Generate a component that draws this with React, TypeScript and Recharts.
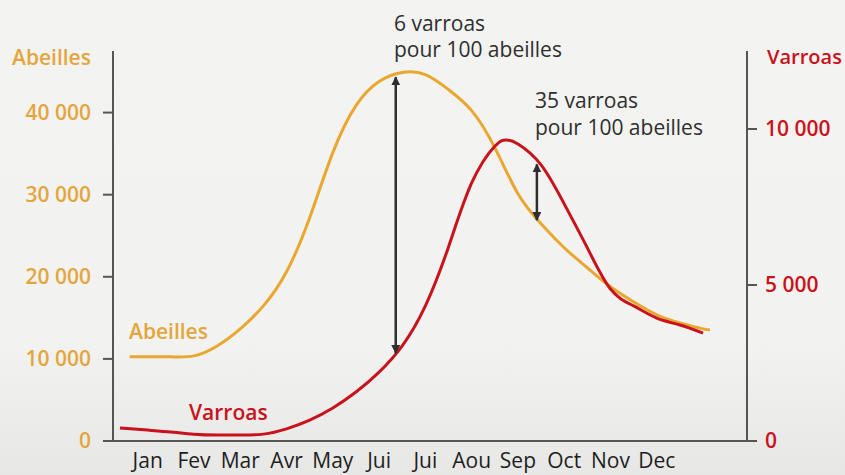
import React from "react";
import { LineChart, Line, XAxis, YAxis, ReferenceLine } from "recharts";

const months = ["Jan", "Fev", "Mar", "Avr", "May", "Jui", "Jui", "Aou", "Sep", "Oct", "Nov", "Dec"];
const monthTicks = [1, 2, 3, 4, 5, 6, 7, 8, 9, 10, 11, 12];

// abeilles (left axis), x = month position
const beeMonths = [0.61, 1, 1.5, 2, 2.5, 3, 3.5, 4, 4.5, 5, 5.5, 6, 6.5, 7, 7.5, 8, 8.5, 9, 9.5, 10, 10.5, 11, 11.5, 12, 12.5, 13, 13.15];
const beeCounts = [10250, 10250, 10250, 10370, 11580, 13660, 16460, 20610, 27200, 35120, 40850, 43780, 44880, 44630, 42800, 40240, 35730, 30120, 26460, 23540, 21100, 18780, 16950, 15370, 14390, 13660, 13540];

// varroas (right axis)
const miteMonths = [0.4, 1, 1.5, 2, 2.5, 3, 3.5, 4, 4.5, 5, 5.5, 6, 6.5, 7, 7.5, 8, 8.5, 8.75, 9, 9.5, 10, 10.5, 11, 11.5, 12, 12.5, 13];
const miteCounts = [420, 350, 290, 220, 190, 190, 220, 390, 670, 1060, 1570, 2210, 3050, 4330, 6220, 8270, 9450, 9650, 9520, 8850, 7600, 6190, 4870, 4330, 3940, 3720, 3460];

const beeTicks = [0, 10000, 20000, 30000, 40000];
const miteTicks = [0, 5000, 10000];

const beeData = beeMonths.map((m, i) => ({ m, v: beeCounts[i] }));
const miteData = miteMonths.map((m, i) => ({ m, v: miteCounts[i] }));

const YELLOW = "#e9a72f";
const YELLOW_TXT = "#e3a63d";
const RED = "#c8121c";
const AXIS = "#555";
const DARK = "#2e2e2e";
const FONT = "'Open Sans', sans-serif";

const fmt = (v: number) => String(v).replace(/\B(?=(\d{3})+(?!\d))/g, " ");

const arrowShape = (p: any) => (
  <line
    x1={p.x1}
    y1={p.y1}
    x2={p.x2}
    y2={p.y2}
    stroke={DARK}
    strokeWidth={2.5}
    markerStart="url(#arrowHead)"
    markerEnd="url(#arrowHead)"
  />
);

export default function App() {
  return (
    <div
      style={{
        position: "absolute",
        left: 0,
        top: 0,
        width: 845,
        height: 475,
        background: "linear-gradient(to bottom, #f3f3f1 0%, #f2f2f0 72%, #e7e7e6 100%)",
        fontFamily: FONT,
      }}
    >
      <LineChart width={845} height={475} margin={{ top: 51, right: 0, bottom: 0, left: 0 }}>
        <defs>
          <marker
            id="arrowHead"
            viewBox="0 0 10 10"
            refX={9}
            refY={5}
            markerWidth={9}
            markerHeight={9}
            markerUnits="userSpaceOnUse"
            orient="auto-start-reverse"
          >
            <path d="M0,0 L10,5 L0,10 z" fill={DARK} />
          </marker>
        </defs>
        <XAxis
          type="number"
          dataKey="m"
          domain={[0.25, 13.95]}
          ticks={monthTicks}
          tickFormatter={(v: number) => months[v - 1]}
          interval={0}
          height={34}
          tickLine={false}
          tickSize={0}
          tickMargin={12}
          stroke={AXIS}
          strokeWidth={2}
          tick={{ fill: "#1e1e1e", fontSize: 21, fontWeight: 500, fontFamily: FONT }}
        />
        <YAxis
          yAxisId="bees"
          orientation="left"
          width={113}
          domain={[0, 47500]}
          ticks={beeTicks}
          tickFormatter={fmt}
          tickSize={10}
          tickMargin={12}
          stroke={AXIS}
          strokeWidth={2}
          tick={{ fill: YELLOW_TXT, fontSize: 21, fontWeight: 600, fontFamily: FONT }}
        />
        <YAxis
          yAxisId="mites"
          orientation="right"
          width={98}
          domain={[0, 12500]}
          ticks={miteTicks}
          tickFormatter={fmt}
          tickSize={10}
          tickMargin={8}
          stroke={AXIS}
          strokeWidth={2}
          tick={{ fill: RED, fontSize: 21, fontWeight: 600, fontFamily: FONT }}
        />
        <Line
          data={beeData}
          dataKey="v"
          yAxisId="bees"
          type="natural"
          stroke={YELLOW}
          strokeWidth={3}
          dot={false}
          isAnimationActive={false}
        />
        <Line
          data={miteData}
          dataKey="v"
          yAxisId="mites"
          type="natural"
          stroke={RED}
          strokeWidth={3}
          dot={false}
          isAnimationActive={false}
        />
        <ReferenceLine
          yAxisId="bees"
          segment={[{ x: 6.36, y: 44300 }, { x: 6.36, y: 10700 }]}
          shape={arrowShape}
          ifOverflow="visible"
        />
        <ReferenceLine
          yAxisId="bees"
          segment={[{ x: 9.41, y: 33700 }, { x: 9.41, y: 26900 }]}
          shape={arrowShape}
          ifOverflow="visible"
        />
        <text x={12} y={65} fill={YELLOW_TXT} fontSize={21} fontWeight={600} fontFamily={FONT}>
          Abeilles
        </text>
        <text x={767} y={64} fill={RED} fontSize={20} fontWeight={600} fontFamily={FONT}>
          Varroas
        </text>
        <text x={129} y={339} fill={YELLOW_TXT} fontSize={21} fontWeight={600} fontFamily={FONT}>
          Abeilles
        </text>
        <text x={189} y={420} fill={RED} fontSize={21} fontWeight={600} fontFamily={FONT}>
          Varroas
        </text>
        <text x={394} y={31} fill={DARK} fontSize={21} fontWeight={500} fontFamily={FONT}>
          6 varroas
        </text>
        <text x={394} y={57} fill={DARK} fontSize={21} fontWeight={500} fontFamily={FONT}>
          pour 100 abeilles
        </text>
        <text x={535} y={108} fill={DARK} fontSize={21} fontWeight={500} fontFamily={FONT}>
          35 varroas
        </text>
        <text x={535} y={135} fill={DARK} fontSize={21} fontWeight={500} fontFamily={FONT}>
          pour 100 abeilles
        </text>
      </LineChart>
    </div>
  );
}
